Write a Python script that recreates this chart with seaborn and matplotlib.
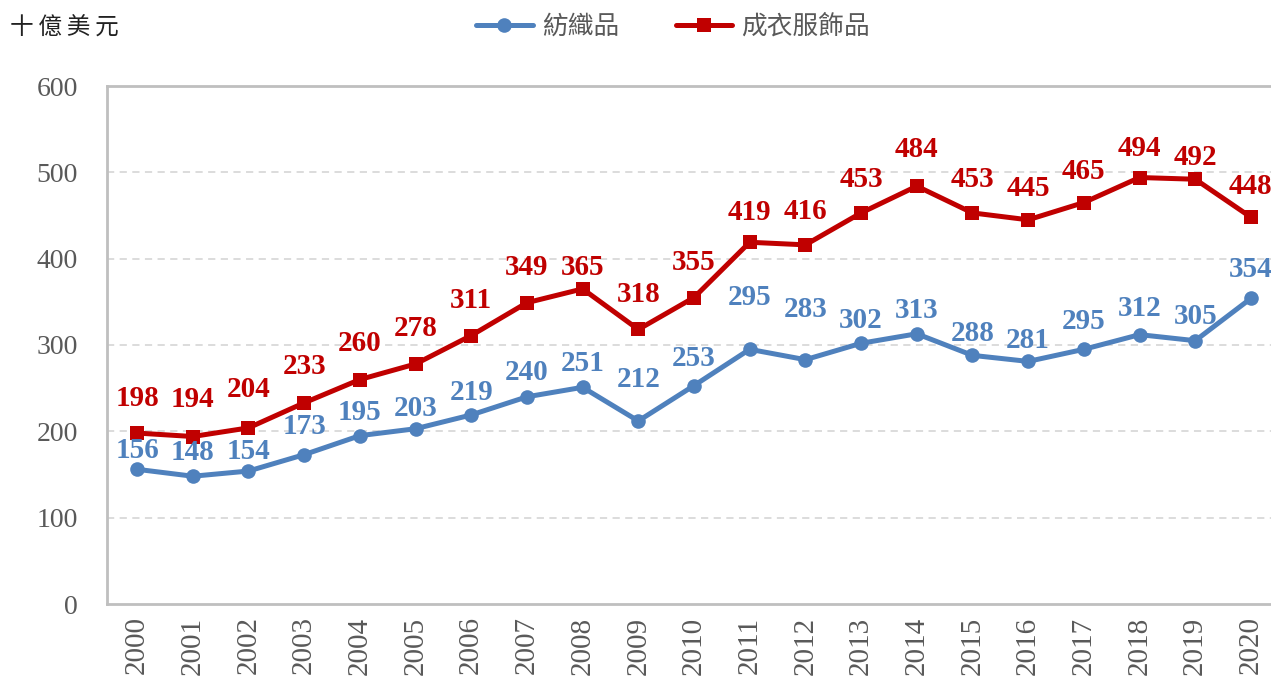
import matplotlib
matplotlib.use("Agg")
import matplotlib.pyplot as plt
import seaborn as sns
import pandas as pd

years = list(range(2000, 2021))
textiles = [156, 148, 154, 173, 195, 203, 219, 240, 251, 212, 253, 295, 283, 302, 313, 288, 281, 295, 312, 305, 354]
apparel = [198, 194, 204, 233, 260, 278, 311, 349, 365, 318, 355, 419, 416, 453, 484, 453, 445, 465, 494, 492, 448]
series_names = ["紡織品", "成衣服飾品"]
unit_label = "十億美元"

# label offsets above points (pixels)
blue_off = [19, 24, 20, 28, 23, 20, 22, 24, 24, 41, 27, 52, 50, 23, 23, 22, 21, 28, 26, 24, 29]
red_off = [35, 37, 38, 36, 36, 35, 35, 35, 21, 35, 35, 30, 33, 33, 37, 33, 31, 31, 29, 22, 31]

BLUE = "#4F81BD"
RED = "#C00000"

sns.set_theme(style="white")
plt.rcParams["font.family"] = ["Liberation Serif", "Noto Sans CJK TC", "DejaVu Sans"]

df = pd.DataFrame({
    "year": years * 2,
    "value": textiles + apparel,
    "series": [series_names[0]] * len(years) + [series_names[1]] * len(years),
})

fig = plt.figure(figsize=(12.71, 6.82), dpi=100)
ax = fig.add_axes([107 / 1271, (682 - 604) / 682, (1281 - 107) / 1271, (604 - 86) / 682])

sns.lineplot(data=df[df.series == series_names[0]], x="year", y="value", ax=ax,
             color=BLUE, lw=3.6, marker="o", markersize=10.5, markeredgewidth=0,
             label=series_names[0], zorder=3)
sns.lineplot(data=df[df.series == series_names[1]], x="year", y="value", ax=ax,
             color=RED, lw=3.6, marker="s", markersize=10, markeredgewidth=0,
             label=series_names[1], zorder=3)

for x, v, o in zip(years, textiles, blue_off):
    ax.annotate(str(v), (x, v), xytext=(0, o * 0.72), textcoords="offset points",
                ha="center", va="center", fontsize=21, fontweight="bold",
                color=BLUE, family="Liberation Serif", zorder=4)
for x, v, o in zip(years, apparel, red_off):
    ax.annotate(str(v), (x, v), xytext=(0, o * 0.72), textcoords="offset points",
                ha="center", va="center", fontsize=21, fontweight="bold",
                color=RED, family="Liberation Serif", zorder=4)

ax.set_xlim(1999.46, 2020.54)
ax.set_ylim(0, 600)
ax.set_yticks(range(0, 601, 100))
ax.set_xticks(years)
ax.set_xticklabels([str(y) for y in years], rotation=90, fontsize=21, color="#595959",
                   family="Liberation Serif")
ax.set_yticklabels([str(v) for v in range(0, 601, 100)], fontsize=20, color="#595959",
                   family="Liberation Serif")
ax.tick_params(axis="both", length=0)
ax.tick_params(axis="y", pad=21)
ax.tick_params(axis="x", pad=9)
ax.set_xlabel("")
ax.set_ylabel("")

for y in range(100, 600, 100):
    ax.axhline(y, color="#D9D9D9", lw=1.3, ls=(0, (4, 3)), zorder=1)

for s in ["left", "top", "bottom"]:
    ax.spines[s].set_color("#BFBFBF")
    ax.spines[s].set_linewidth(2)
ax.spines["right"].set_visible(False)

leg = ax.legend(loc="center", bbox_to_anchor=(673 / 1271, 1 - 27 / 682),
                bbox_transform=fig.transFigure, ncol=2, frameon=False,
                prop={"family": ["Noto Sans CJK TC"], "size": 18.5},
                handlelength=2.2, columnspacing=2.2, handletextpad=0.35)
for t in leg.get_texts():
    t.set_color("#595959")

fig.text(10 / 1271, 1 - 28 / 682, "\u2009".join(unit_label), ha="left", va="center", fontsize=17,
         color="#222222", family=["Noto Sans CJK TC", "DejaVu Sans"])

fig.savefig("out.png", dpi=100)
